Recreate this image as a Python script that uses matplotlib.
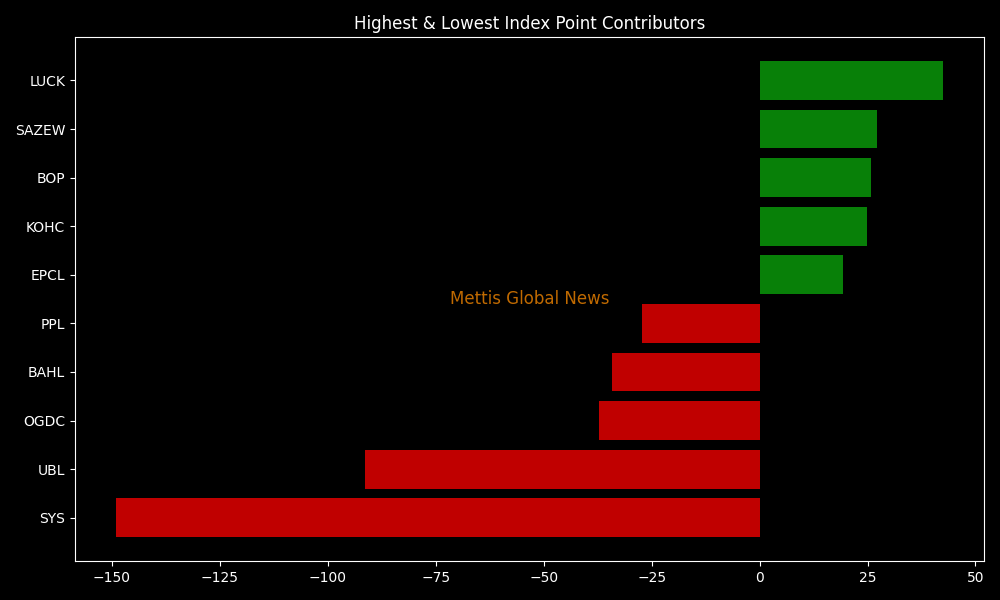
import matplotlib
matplotlib.use("Agg")
import matplotlib.pyplot as plt

plt.style.use("dark_background")

symbols = ["SYS", "UBL", "OGDC", "BAHL", "PPL", "EPCL", "KOHC", "BOP", "SAZEW", "LUCK"]
points = [-149.0, -91.4, -37.2, -34.2, -27.2, 19.3, 24.9, 25.8, 27.2, 42.4]
colors = ["#c00000" if v < 0 else "#088008" for v in points]

fig = plt.figure(figsize=(10, 6), dpi=100)
ax = fig.add_axes([0.075, 0.065, 0.909, 0.873])
ax.barh(symbols, points, color=colors, height=0.8)
ax.set_title("Highest & Lowest Index Point Contributors", fontsize=12)
ax.text(0.5, 0.5, "Mettis Global News", transform=ax.transAxes, ha="center", va="center",
        color="#c06a00", fontsize=12)
fig.savefig("out.png", dpi=100, facecolor="black")
